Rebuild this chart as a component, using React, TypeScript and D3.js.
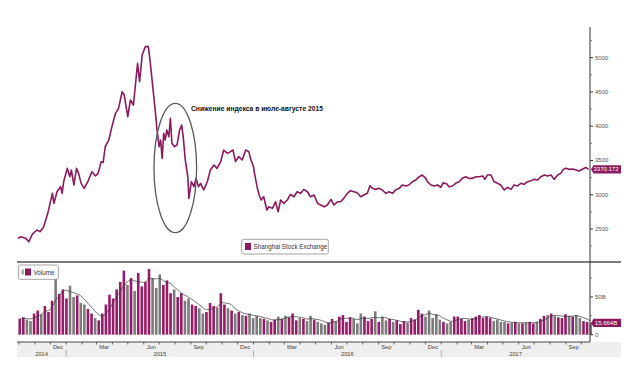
import React from "react";
import * as d3 from "d3";

const priceDates = [
  "2014-09-29","2014-10-04","2014-10-14","2014-10-20","2014-10-27","2014-11-05","2014-11-11","2014-11-18","2014-11-26","2014-12-05",
  "2014-12-08","2014-12-14","2014-12-21","2014-12-24","2014-12-27","2015-01-03","2015-01-08","2015-01-11","2015-01-16","2015-01-21",
  "2015-01-25","2015-01-30","2015-02-05","2015-02-12","2015-02-20","2015-02-27","2015-03-04","2015-03-10","2015-03-14","2015-03-18",
  "2015-03-25","2015-03-31","2015-04-07","2015-04-13","2015-04-20","2015-04-24","2015-05-01","2015-05-06","2015-05-12","2015-05-20",
  "2015-05-24","2015-05-29","2015-06-04","2015-06-10","2015-06-14","2015-06-17","2015-06-20","2015-06-24","2015-06-27","2015-07-01",
  "2015-07-04","2015-07-07","2015-07-10","2015-07-13","2015-07-16","2015-07-20","2015-07-23","2015-07-26","2015-07-31","2015-08-05",
  "2015-08-10","2015-08-14","2015-08-17","2015-08-21","2015-08-26","2015-08-28","2015-09-02","2015-09-07","2015-09-11","2015-09-16",
  "2015-09-20","2015-09-26","2015-10-03","2015-10-09","2015-10-16","2015-10-22","2015-10-29","2015-11-04","2015-11-11","2015-11-17",
  "2015-11-22","2015-11-27","2015-12-03","2015-12-10","2015-12-17","2015-12-23","2015-12-26","2016-01-01","2016-01-03","2016-01-08",
  "2016-01-12","2016-01-16","2016-01-21","2016-01-27","2016-01-31","2016-02-07","2016-02-13","2016-02-18","2016-02-23","2016-02-29",
  "2016-03-07","2016-03-13","2016-03-20","2016-03-26","2016-04-02","2016-04-08","2016-04-15","2016-04-21","2016-04-28","2016-05-05",
  "2016-05-11","2016-05-18","2016-05-24","2016-05-31","2016-06-06","2016-06-13","2016-06-19","2016-06-25","2016-07-02","2016-07-08",
  "2016-07-15","2016-07-21","2016-07-28","2016-08-03","2016-08-10","2016-08-15","2016-08-20","2016-08-26","2016-09-02","2016-09-08",
  "2016-09-15","2016-09-21","2016-09-28","2016-10-04","2016-10-11","2016-10-17","2016-10-24","2016-10-30","2016-11-06","2016-11-12",
  "2016-11-19","2016-11-25","2016-12-02","2016-12-05","2016-12-12","2016-12-18","2016-12-25","2016-12-31","2017-01-05","2017-01-12",
  "2017-01-16","2017-01-23","2017-01-29","2017-02-05","2017-02-11","2017-02-18","2017-02-24","2017-03-03","2017-03-10","2017-03-16",
  "2017-03-23","2017-03-27","2017-04-01","2017-04-08","2017-04-14","2017-04-21","2017-04-27","2017-05-04","2017-05-10","2017-05-17",
  "2017-05-23","2017-05-30","2017-06-05","2017-06-12","2017-06-18","2017-06-25","2017-07-01","2017-07-08","2017-07-14","2017-07-21",
  "2017-07-27","2017-08-03","2017-08-09","2017-08-16","2017-08-22","2017-08-27","2017-09-01","2017-09-08","2017-09-14","2017-09-21",
  "2017-09-27","2017-10-04","2017-10-10","2017-10-15"
];

const priceValues = [
  2363,2387,2363,2314,2426,2485,2460,2533,2728,3020,
  2874,3044,3117,3020,3190,3385,3263,3360,3142,3385,
  3312,3166,3093,3190,3336,3273,3312,3480,3470,3701,
  3799,3993,4188,4261,4504,4455,4139,4382,4309,4918,
  4650,5039,5161,5161,4918,4699,4480,4188,3945,3701,
  3799,3531,3896,3799,3945,3847,4115,3750,3701,3726,
  3945,4017,3847,3507,3263,2947,3190,3117,3239,3117,
  3166,3069,3190,3360,3434,3385,3482,3653,3604,3628,
  3653,3482,3555,3507,3653,3628,3531,3409,3312,3117,
  2996,2923,2971,2777,2825,2801,2898,2752,2923,2874,
  2923,3005,2971,3044,3020,3078,3044,2971,2996,2874,
  2850,2825,2850,2933,2850,2898,2898,2947,3020,3059,
  3044,3030,2971,2996,3020,3131,3093,3078,3093,3069,
  3020,3044,3020,3069,3093,3142,3127,3142,3190,3214,
  3263,3287,3239,3190,3142,3127,3142,3108,3176,3156,
  3117,3127,3166,3190,3239,3263,3239,3239,3263,3263,
  3273,3224,3287,3287,3190,3166,3142,3069,3108,3078,
  3142,3127,3166,3151,3190,3205,3224,3214,3263,3287,
  3273,3287,3224,3287,3312,3370,3385,3370,3375,3360,
  3346,3375,3399,3370.172
];

const volumeStart = "2014-09-29";
const volumeValues = [
  21,23,20,18,28,32,27,38,30,45,
  76,54,60,48,65,50,52,42,40,34,
  28,22,19,28,40,53,48,60,70,85,
  66,75,58,82,64,70,87,75,62,80,
  66,72,55,60,50,55,45,48,40,38,
  35,28,30,42,38,36,55,40,35,32,
  28,30,26,25,28,22,25,22,21,19,
  17,20,24,21,25,23,28,19,22,21,
  18,25,20,17,15,13,16,21,18,24,
  26,17,23,21,15,28,24,18,21,31,
  17,24,19,21,17,19,14,18,16,22,
  20,33,28,24,32,22,27,20,17,15,
  17,24,24,21,18,20,22,24,26,22,
  24,22,18,20,17,17,15,16,17,15,
  15,16,17,15,17,21,25,26,28,25,
  23,22,27,25,24,26,22,18,17,15.664
];

const priceTicks = [2500, 3000, 3500, 4000, 4500, 5000];
const priceMinorTicks = [2250, 2750, 3250, 3750, 4250, 4750, 5250];
const volumeTicks = [0, 50];
const volumeTickLabels = ["0", "50B"];
const volumeMinorTicks = [25, 75];
const monthLabelNames = ["Dec", "Mar", "Jun", "Sep"];
const yearLabels = ["2014", "2015", "2016", "2017"];

const seriesName = "Shanghai Stock Exchange";
const volumeName = "Volume";
const annotationText = "Снижение индекса в июле-августе 2015";
const lastPriceLabel = "3370.172";
const lastVolumeLabel = "15.664B";

const PURPLE = "#8c1a5e";
const BAR_PURPLE = "#951c66";
const BAR_GRAY = "#7b7b7b";
const FONT = "'Liberation Sans', Arial, sans-serif";

export default function App() {
  const parse = d3.timeParse("%Y-%m-%d");
  const price = priceDates.map((d, i) => ({ date: parse(d) as Date, value: priceValues[i] }));
  const vStart = parse(volumeStart) as Date;
  const volume = volumeValues.map((v, i) => ({ date: d3.timeDay.offset(vStart, 7 * i), value: v }));

  const x = d3.scaleTime().domain([parse("2014-09-27") as Date, parse("2017-10-18") as Date]).range([17, 590]);
  const yP = d3.scaleLinear().domain([2018, 5448]).range([262, 27]);
  const yV = d3.scaleLinear().domain([-9.3, 96.4]).range([341.7, 262]);

  const line = d3.line<{ date: Date; value: number }>().x(d => x(d.date)).y(d => yP(d.value));

  const bis = d3.bisector((d: { date: Date }) => d.date).right;
  const priceAt = (dt: Date) => {
    const i = Math.max(0, bis(price, dt) - 1);
    return price[i].value;
  };

  const barW = 2.6;
  const bars = volume.map((d) => {
    const endD = d3.timeDay.offset(d.date, 5);
    const prevD = d3.timeDay.offset(d.date, -2);
    const up = priceAt(endD) >= priceAt(prevD);
    return { ...d, up };
  });

  const maN = 4;
  const ma = volume.map((d, i) => {
    const s = volume.slice(Math.max(0, i - maN + 1), i + 1);
    return { date: d.date, value: d3.mean(s, e => e.value) as number };
  });
  const maLine = d3.line<{ date: Date; value: number }>().x(d => x(d.date) + 1.8).y(d => yV(d.value)).curve(d3.curveBasis);

  const [d0, d1] = x.domain();
  const months = d3.timeMonth.range(d3.timeMonth.ceil(d0), d1);
  const monthLabelMonths = d3.timeMonth
    .range(d3.timeMonth.ceil(d0), d1)
    .filter(m => monthLabelNames.includes(d3.timeFormat("%b")(m)));
  const years = d3.timeYear.range(d3.timeYear.ceil(d0), d1);
  const yearSpans = yearLabels.map(yl => {
    const s = new Date(+yl, 0, 1);
    const e = new Date(+yl + 1, 0, 1);
    const a = Math.max(x(s), x(d0));
    const b = Math.min(x(e), x(d1));
    return { label: yl, cx: (a + b) / 2 };
  });

  const axisX = 590;
  const pLast = priceValues[priceValues.length - 1];
  const vLast = volumeValues[volumeValues.length - 1];

  const tag = (yc: number) => `M${axisX + 1},${yc} L${axisX + 3.5},${yc - 4.2} L621,${yc - 4.2} L621,${yc + 4.2} L${axisX + 3.5},${yc + 4.2} Z`;

  return (
    <svg width={640} height={376} style={{ position: "absolute", left: 0, top: 0, background: "#fff" }} fontFamily={FONT}>
      <rect x={0} y={0} width={640} height={376} fill="#fff" />
      <rect x={17} y={342} width={604} height={15} fill="#efefef" />

      {bars.map((b, i) => (
        <rect key={i} x={x(b.date) + 0.4} y={yV(b.value)} width={barW} height={yV(0) - yV(b.value)} fill={b.up ? BAR_PURPLE : BAR_GRAY} />
      ))}
      <path d={maLine(ma) || ""} fill="none" stroke="#3a3a3a" strokeWidth={0.7} />

      <path d={line(price) || ""} fill="none" stroke={PURPLE} strokeWidth={1.6} strokeLinejoin="round" />

      <line x1={17} x2={621} y1={262} y2={262} stroke="#7a7a7a" strokeWidth={1.8} />

      <line x1={axisX} x2={axisX} y1={27} y2={342} stroke="#333" strokeWidth={1} />
      {priceTicks.map(t => (
        <g key={t}>
          <line x1={axisX} x2={axisX + 3} y1={yP(t)} y2={yP(t)} stroke="#333" strokeWidth={1} />
          <text x={axisX + 5} y={yP(t) + 2} fontSize={6} fill="#555">{t}</text>
        </g>
      ))}
      {priceMinorTicks.map(t => (
        <line key={t} x1={axisX} x2={axisX + 2} y1={yP(t)} y2={yP(t)} stroke="#666" strokeWidth={0.8} />
      ))}
      {volumeTicks.map((t, i) => (
        <g key={t}>
          <line x1={axisX} x2={axisX + 3} y1={yV(t)} y2={yV(t)} stroke="#333" strokeWidth={1} />
          <text x={axisX + 5} y={yV(t) + 2} fontSize={6} fill="#555">{volumeTickLabels[i]}</text>
        </g>
      ))}
      {volumeMinorTicks.map(t => (
        <line key={t} x1={axisX} x2={axisX + 2} y1={yV(t)} y2={yV(t)} stroke="#666" strokeWidth={0.8} />
      ))}

      <path d={tag(yP(pLast))} fill={PURPLE} />
      <text x={606} y={yP(pLast) + 2.1} fontSize={6} fill="#fff" textAnchor="middle">{lastPriceLabel}</text>
      <path d={tag(yV(vLast))} fill={PURPLE} />
      <text x={606} y={yV(vLast) + 2.1} fontSize={6} fill="#fff" textAnchor="middle">{lastVolumeLabel}</text>

      <line x1={17} x2={axisX} y1={342} y2={342} stroke="#444" strokeWidth={1} />
      {months.map((m, i) => (
        <line key={i} x1={x(m)} x2={x(m)} y1={342} y2={344.5} stroke="#444" strokeWidth={0.8} />
      ))}
      {monthLabelMonths.map((m, i) => (
        <text key={i} x={x(d3.timeDay.offset(m, 15))} y={349.3} fontSize={5.8} fill="#444" textAnchor="middle">{d3.timeFormat("%b")(m)}</text>
      ))}
      {years.map((yv, i) => (
        <line key={i} x1={x(yv)} x2={x(yv)} y1={350} y2={357} stroke="#999" strokeWidth={0.7} />
      ))}
      {yearSpans.map(s => (
        <text key={s.label} x={s.cx} y={356} fontSize={5.8} fill="#444" textAnchor="middle">{s.label}</text>
      ))}

      <ellipse cx={175.3} cy={168} rx={21.3} ry={64.7} fill="none" stroke="#5a5a5a" strokeWidth={1.3} />
      <text x={191} y={111} fontSize={6.5} fontWeight="bold" fill="#111" textLength={132} lengthAdjust="spacingAndGlyphs">{annotationText}</text>

      <rect x={241.7} y={239.3} width={86.6} height={14.7} rx={2} fill="#fff" stroke="#8a8a8a" strokeWidth={0.8} />
      <rect x={245} y={243} width={6} height={7} fill={PURPLE} />
      <text x={253.5} y={249} fontSize={6.3} fill="#333">{seriesName}</text>

      <rect x={18.3} y={265} width={40} height={14.3} rx={2} fill="#fff" stroke="#8a8a8a" strokeWidth={0.8} />
      <rect x={21.5} y={269.5} width={2.5} height={5} fill="#aaa" />
      <rect x={25} y={268.5} width={6} height={7} fill={PURPLE} />
      <text x={33.5} y={274.5} fontSize={6.3} fill="#333">{volumeName}</text>
    </svg>
  );
}
